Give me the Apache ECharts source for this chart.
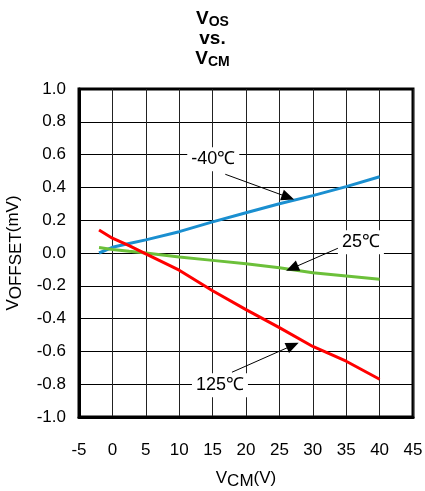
<!DOCTYPE html>
<html><head><meta charset="utf-8">
<script src="https://cdn.jsdelivr.net/npm/echarts@6/dist/echarts.min.js"></script>
<style>html,body{margin:0;padding:0;background:#fff}#c{width:425px;height:491px}</style>
</head><body><div id="c"></div>
<script>
const vcm = [-2, 0, 2.5, 5, 10, 15, 20, 25, 30, 35, 40];
const vosM40 = [0.00, 0.035, 0.058, 0.08, 0.13, 0.19, 0.245, 0.30, 0.35, 0.405, 0.465];
const vos25 = [0.033, 0.022, 0.01, 0.0, -0.025, -0.045, -0.065, -0.09, -0.12, -0.14, -0.16];
const vos125 = [0.14, 0.09, 0.045, -0.005, -0.105, -0.23, -0.345, -0.455, -0.57, -0.66, -0.77];
const xTicks = [-5, 0, 5, 10, 15, 20, 25, 30, 35, 40, 45];
const yTicks = [-1.0, -0.8, -0.6, -0.4, -0.2, 0.0, 0.2, 0.4, 0.6, 0.8, 1.0];
const labels = [
  {text: '-40℃', pos: [15.1, 0.571], from: [16.9, 0.48], to: [26.3, 0.34]},
  {text: '25℃', pos: [37.2, 0.065], from: [34.1, 0.035], to: [26.9, -0.093]},
  {text: '125℃', pos: [16.1, -0.807], from: [17.9, -0.727], to: [27.0, -0.563]}
];
const FF = '"Liberation Sans", Arial, sans-serif';
const zip = (a, b) => a.map((v, i) => [v, b[i]]);
const chart = echarts.init(document.getElementById('c'), null, {renderer: 'canvas'});
chart.setOption({
  animation: false,
  backgroundColor: '#fff',
  title: {
    left: 'center', top: 4,
    text: '{v|V}{s|OS}\n{v|vs.}\n{v|V}{s|CM}',
    textStyle: {
      fontFamily: FF, fontWeight: 'bold', color: '#000',
      rich: {
        v: {fontFamily: FF, fontWeight: 'bold', fontSize: 19, lineHeight: 20, color: '#000'},
        s: {fontFamily: FF, fontWeight: 'bold', fontSize: 14, lineHeight: 20, verticalAlign: 'bottom', padding: [8, 0, 0, 0], color: '#000'}
      }
    }
  },
  grid: {left: 79, right: 12, top: 89, bottom: 74, containLabel: false, outerBoundsMode: 'none',
         show: true, borderColor: '#000', borderWidth: 3, backgroundColor: 'transparent'},
  xAxis: {
    type: 'value', min: -5, max: 45, interval: 5,
    axisLine: {show: true, onZero: false, lineStyle: {color: '#000', width: 3}},
    axisTick: {show: false},
    axisLabel: {margin: 25, fontFamily: FF, fontSize: 17, color: '#000', customValues: xTicks},
    splitLine: {show: true, lineStyle: {color: '#222', width: 1}},
    name: '{v|V}{s|CM}{v|(V)}', nameLocation: 'middle', nameGap: 50,
    nameTextStyle: {
      rich: {
        v: {fontFamily: FF, fontSize: 17, color: '#000'},
        s: {fontFamily: FF, fontSize: 17, color: '#000', padding: [6, 0, 0, 0]}
      }
    }
  },
  yAxis: {
    type: 'value', min: -1, max: 1, interval: 0.2,
    axisLine: {show: true, onZero: false, lineStyle: {color: '#000', width: 3}},
    axisTick: {show: false},
    axisLabel: {margin: 13, fontFamily: FF, fontSize: 17, color: '#000', formatter: v => v.toFixed(1)},
    splitLine: {show: true, lineStyle: {color: '#000', width: 1}},
    name: '{v|V}{s|OFFSET}{v|(mV)}', nameLocation: 'middle', nameGap: 54, nameRotate: 90,
    nameTextStyle: {
      rich: {
        v: {fontFamily: FF, fontSize: 17, color: '#000'},
        s: {fontFamily: FF, fontSize: 17, color: '#000', padding: [6, 0, 0, 0]}
      }
    }
  },
  series: [
    {type: 'line', data: zip(vcm, vosM40), showSymbol: false, lineStyle: {color: '#1a8fd0', width: 3}, z: 3},
    {type: 'line', data: zip(vcm, vos25), showSymbol: false, lineStyle: {color: '#6cc03a', width: 3}, z: 3},
    {type: 'line', data: zip(vcm, vos125), showSymbol: false, lineStyle: {color: '#ff0000', width: 3}, z: 3},
    {
      type: 'line', data: [], z: 5,
      markLine: {
        silent: true, animation: false,
        symbol: ['none', 'triangle'], symbolSize: [11, 13],
        lineStyle: {color: '#000', width: 1, type: 'solid'},
        label: {show: false},
        data: labels.map(l => [{coord: l.from}, {coord: l.to}])
      },
      markPoint: {
        silent: true, animation: false,
        symbol: 'rect', symbolSize: 1, itemStyle: {color: 'rgba(0,0,0,0)'},
        label: {
          show: true, position: 'inside', fontFamily: FF, fontSize: 18, color: '#000',
          backgroundColor: '#fff', padding: [3, 4, 3, 4]
        },
        data: labels.map(l => ({coord: l.pos, value: l.text, label: {formatter: l.text}}))
      }
    }
  ]
});
</script></body></html>
